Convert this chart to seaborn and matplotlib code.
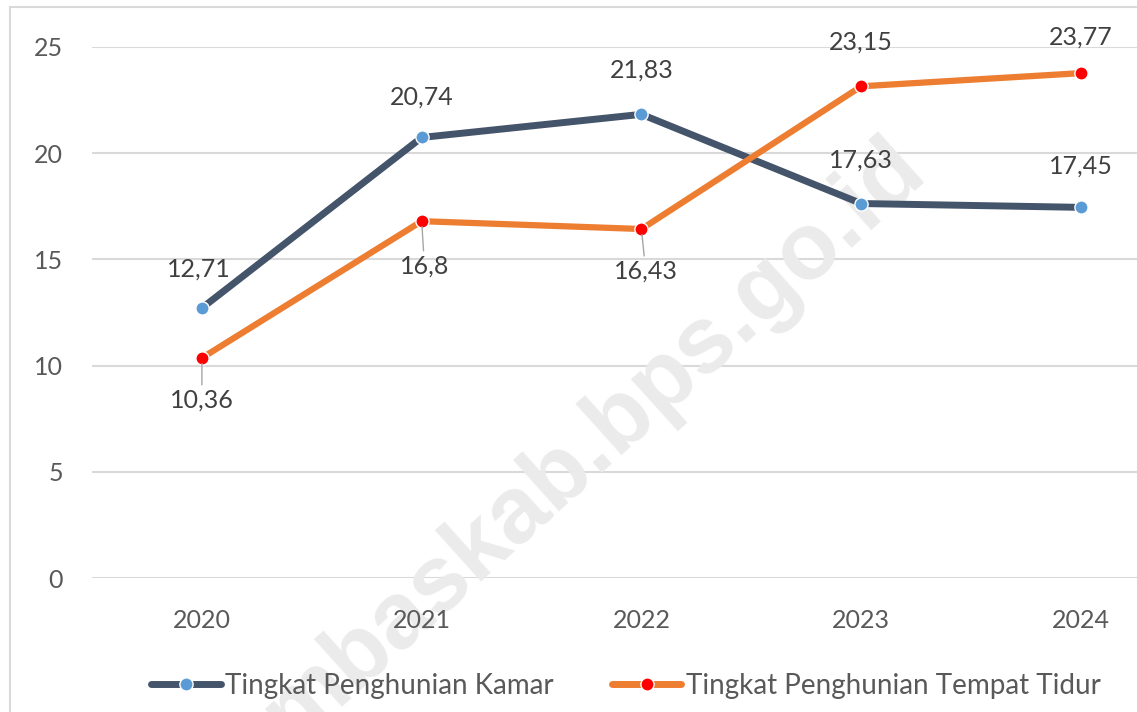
import pandas as pd
import matplotlib
matplotlib.use("Agg")
import matplotlib.pyplot as plt
from matplotlib.patches import Rectangle
from matplotlib.lines import Line2D
import seaborn as sns

years = ["2020", "2021", "2022", "2023", "2024"]
kamar = [12.71, 20.74, 21.83, 17.63, 17.45]
tempat_tidur = [10.36, 16.8, 16.43, 23.15, 23.77]
series_names = ["Tingkat Penghunian Kamar", "Tingkat Penghunian Tempat Tidur"]
yticks = [0, 5, 10, 15, 20, 25]

line_colors = ["#44546A", "#ED7D31"]
marker_colors = ["#5B9BD5", "#FF0000"]
# label offsets in points (dx, dy)
kamar_off = [(-2, 28), (0, 29), (0, 32), (0, 31), (0, 30)]
tidur_off = [(0, -30), (2, -32), (3, -30), (0, 32), (0, 26)]


def fmt(v):
    s = ("%.2f" % v).rstrip("0").rstrip(".")
    return s.replace(".", ",")


def main():
    sns.set_theme(style="white")
    plt.rcParams["font.family"] = ["Lato", "DejaVu Sans"]

    fig = plt.figure(figsize=(11.37, 7.12), dpi=100)
    ax = fig.add_axes([92 / 1137, 134 / 712, 1 - 92 / 1137, 531 / 712])

    # outer frame of the chart (cropped on right/bottom)
    fig.patches.append(Rectangle((10 / 1137, -0.05), 1.2, 1.05 - 7 / 712,
                                 transform=fig.transFigure, fill=False,
                                 edgecolor="#D9D9D9", lw=1.5, zorder=0))

    # watermark, behind the lines and labels
    ax.text(0.522, 0.38, "mbaskab.bps.go.id", rotation=42, fontsize=68,
            fontweight="bold", family="Liberation Sans", color="#EBEBEB",
            ha="center", va="center", zorder=1.5, transform=fig.transFigure,
            clip_on=False)

    df = pd.DataFrame({"Tahun": years * 2,
                       "Nilai": kamar + tempat_tidur,
                       "Seri": [series_names[0]] * 5 + [series_names[1]] * 5})

    for i, name in enumerate(series_names):
        sub = df[df["Seri"] == name]
        sns.lineplot(data=sub, x="Tahun", y="Nilai", ax=ax, sort=False,
                     color=line_colors[i], lw=5 if i == 0 else 4.5, marker="o",
                     markersize=9.5, markerfacecolor=marker_colors[i],
                     markeredgecolor="white", markeredgewidth=1, zorder=3)

    for vals, offs, lead in [(kamar, kamar_off, False), (tempat_tidur, tidur_off, True)]:
        for j, v in enumerate(vals):
            dx, dy = offs[j]
            arrow = None
            if lead and dy < 0:
                arrow = dict(arrowstyle="-", color="#A6A6A6", lw=1,
                             shrinkA=0, shrinkB=4)
            ax.annotate(fmt(v), (j, v), xytext=(dx, dy), textcoords="offset points",
                        ha="center", va="center", fontsize=18, color="#404040",
                        arrowprops=arrow, annotation_clip=False, zorder=4)

    ax.set_xlim(-0.5, (1137 - 201) / 220)
    ax.set_ylim(0, 25)
    ax.set_yticks(yticks)
    ax.set_yticklabels([str(t) for t in yticks])
    ax.set_xlabel("")
    ax.set_ylabel("")
    ax.grid(axis="y", color="#D9D9D9", lw=1.5, zorder=0)
    ax.grid(axis="x", visible=False)
    ax.set_axisbelow(True)
    ax.xaxis.set_zorder(2)
    for sp in ax.spines.values():
        sp.set_visible(False)
    ax.tick_params(axis="y", length=0, pad=21, labelsize=18, labelcolor="#595959")
    ax.tick_params(axis="x", length=0, pad=22, labelsize=18, labelcolor="#595959")
    ax.patch.set_alpha(0)

    handles = [Line2D([0], [0], color=line_colors[i], lw=5, marker="o",
                      markersize=9.5, markerfacecolor=marker_colors[i],
                      markeredgecolor="white", markeredgewidth=1)
               for i in range(2)]
    ax.legend(handles, series_names, loc="center", ncol=2,
              bbox_to_anchor=(626 / 1137, 26 / 712), bbox_transform=fig.transFigure,
              frameon=False, fontsize=20, handlelength=2.5, handletextpad=0.15,
              columnspacing=2.1, labelcolor="#595959")

    fig.savefig("out.png", dpi=100)


if __name__ == "__main__":
    main()
